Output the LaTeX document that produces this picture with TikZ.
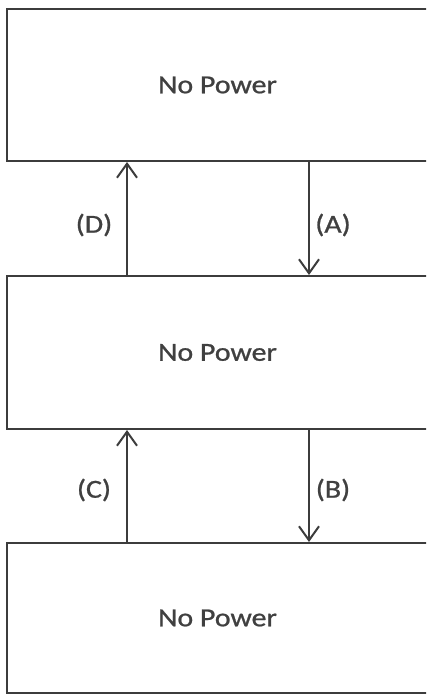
\documentclass[tikz,border=0pt]{standalone}
\usepackage{fontspec}
\usepackage{graphicx}
\setmainfont{Carlito}[FakeBold=0.8]
\usetikzlibrary{arrows.meta}
\definecolor{linegray}{HTML}{3C3C3C}
\definecolor{textgray}{HTML}{404040}
\tikzset{
  statebox/.style={draw=linegray, line width=2pt, fill=white, minimum width=421pt,
    inner sep=0pt, text=textgray, font=\fontsize{26}{30}\selectfont},
  conn/.style={draw=linegray, line width=2pt, -{Straight Barb[length=14pt,width=20pt,line width=2pt]}},
  lbl/.style={inner sep=0pt, text=textgray, font=\fontsize{26}{30}\selectfont}
}
\newcommand{\wid}[1]{\scalebox{1.15}[1]{#1}}
\begin{document}
\begin{tikzpicture}[x=1pt,y=-1pt]
\useasboundingbox (0,0) rectangle (426,695);
\fill[white] (0,0) rectangle (426,695);
\clip (0,0) rectangle (426,695);
\node[statebox, minimum height=152pt] (b1) at (217.5,85) {\wid{No Power}};
\node[statebox, minimum height=153pt] (b2) at (217.5,352.5) {\wid{No Power}};
\node[statebox, minimum height=150pt] (b3) at (217.5,618) {\wid{No Power}};
\coordinate (xl) at (127,0);
\coordinate (xr) at (309,0);
\draw[conn] (xl |- b2.north) -- (xl |- b1.south);
\draw[conn] (xr |- b1.south) -- (xr |- b2.north);
\draw[conn] (xl |- b3.north) -- (xl |- b2.south);
\draw[conn] (xr |- b2.south) -- (xr |- b3.north);
\node[lbl] (ld) at (94,225) {\wid{(D)}};
\node[lbl] (la) at (333,225) {\wid{(A)}};
\node[lbl] (lc) at (94,490) {\wid{(C)}};
\node[lbl] (lb) at (333,490) {\wid{(B)}};
\end{tikzpicture}
\end{document}
